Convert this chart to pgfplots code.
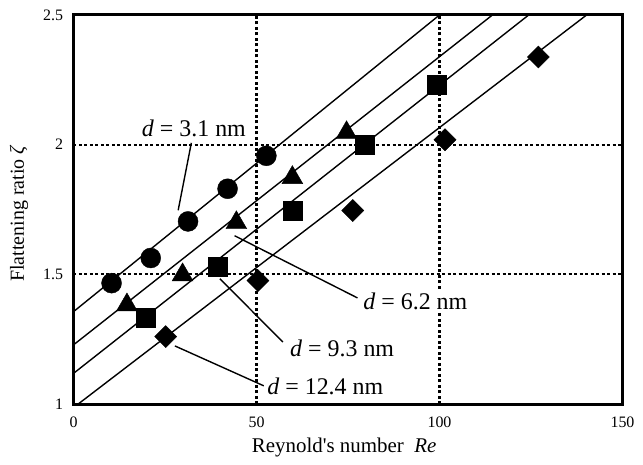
\documentclass[border=0pt]{standalone}
\usepackage{pgfplots}
\pgfplotsset{compat=1.18}
\usepackage{fontspec}
\setmainfont{Liberation Serif}
\begin{document}
\begin{tikzpicture}
\path[use as bounding box] (-73.5bp,-61bp) rectangle (569.5bp,404bp);
\begin{axis}[
  scale only axis, width=549bp, height=389bp,
  xmin=0, xmax=150, ymin=1, ymax=2.5,
  xtick={0,50,100,150}, ytick={1,1.5,2,2.5},
  major tick length=0pt,
  /pgf/number format/assume math mode=true,
  xticklabel={\fontsize{16}{18}\selectfont\pgfmathprintnumber{\tick}},
  yticklabel={\fontsize{16}{18}\selectfont\pgfmathprintnumber{\tick}},
  xticklabel style={yshift=-9bp},
  yticklabel style={xshift=-7bp},
  axis line style={line width=3bp},
  xlabel={Reynold\textquotesingle s number\ \ \textit{Re}},
  ylabel={Flattening ratio \textit{ζ}},
  xlabel style={font=\fontsize{21}{23}\selectfont, at={(axis description cs:0.493,-0.113)}, anchor=center},
  ylabel style={font=\fontsize{20}{22}\selectfont, at={(axis description cs:-0.099,0.49)}, anchor=center},
]
% dashed reference lines
\draw[black, line width=2.2bp, dash pattern=on 3bp off 2.5bp] (axis cs:50,1) -- (axis cs:50,2.5);
\draw[black, line width=2.2bp, dash pattern=on 3bp off 2.5bp] (axis cs:100,1) -- (axis cs:100,2.5);
\draw[black, line width=2.2bp, dash pattern=on 3bp off 2.5bp] (axis cs:0,1.5) -- (axis cs:150,1.5);
\draw[black, line width=2.2bp, dash pattern=on 3bp off 2.5bp] (axis cs:0,2) -- (axis cs:150,2);
% fitted lines
\addplot[black, line width=1.4bp] coordinates {(0,1.356) (150,3.072)};
\addplot[black, line width=1.4bp] coordinates {(0,1.228) (150,2.895)};
\addplot[black, line width=1.4bp] coordinates {(0,1.118) (150,2.785)};
\addplot[black, line width=1.4bp] coordinates {(0,0.986) (150,2.606)};
% data
\addplot[only marks, mark=*, mark size=10bp, black] coordinates {
 (10.4,1.466) (21.1,1.563) (31.3,1.704) (42.1,1.830) (52.7,1.957)};
\addplot[only marks, mark=triangle*, mark size=12bp, black] coordinates {
 (14.6,1.382) (29.8,1.498) (44.5,1.699) (59.8,1.873) (74.6,2.046)};
\addplot[only marks, mark=square*, mark size=9.5bp, black] coordinates {
 (19.7,1.331) (39.5,1.530) (60.0,1.746) (79.5,2.000) (99.3,2.232)};
\addplot[only marks, mark=square*, mark size=7.8bp, mark options={rotate=45}, black] coordinates {
 (25.2,1.260) (50.4,1.476) (76.3,1.746) (101.5,2.019) (127.0,2.338)};
% annotations
\draw[line width=1.4bp] (axis cs:32.2,2.007) -- (axis cs:28.6,1.747);
\draw[line width=1.4bp] (axis cs:44.0,1.649) -- (axis cs:77.6,1.409);
\draw[line width=1.4bp] (axis cs:40.0,1.483) -- (axis cs:57.2,1.239);
\draw[line width=1.4bp] (axis cs:27.7,1.224) -- (axis cs:52.0,1.070);
\node[fill=white, inner sep=3bp, font=\fontsize{24}{26}\selectfont] at (axis cs:32.9,2.064) {\textit{d} = 3.1 nm};
\node[fill=white, inner sep=3bp, font=\fontsize{24}{26}\selectfont] at (axis cs:93.4,1.395) {\textit{d} = 6.2 nm};
\node[fill=white, inner sep=3bp, font=\fontsize{24}{26}\selectfont] at (axis cs:73.4,1.216) {\textit{d} = 9.3 nm};
\node[fill=white, inner sep=3bp, font=\fontsize{24}{26}\selectfont] at (axis cs:68.8,1.067) {\textit{d} = 12.4 nm};
% frame
\draw[line width=3bp] (rel axis cs:0,0) rectangle (rel axis cs:1,1);
\end{axis}
\end{tikzpicture}
\end{document}
